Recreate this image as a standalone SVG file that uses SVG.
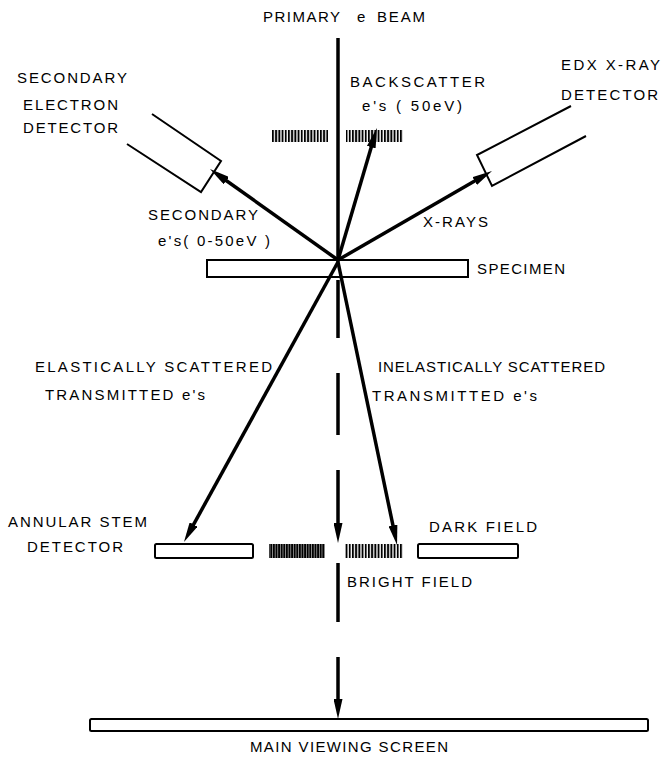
<svg xmlns="http://www.w3.org/2000/svg" width="662" height="760" viewBox="0 0 662 760">
  <style>
    text { font-family: "Liberation Sans", Arial, sans-serif; font-size: 15px; fill: #000; }
    .box { fill: #fff; stroke: #000; stroke-width: 2; }
    .det { fill: none; stroke: #000; stroke-width: 2; stroke-linejoin: miter; }
    .ray { fill: none; stroke: #000; stroke-width: 3.5; marker-end: url(#head); }
    .beam { fill: none; stroke: #000; stroke-width: 3.5; }
  </style>
  <defs>
    <marker id="head" markerUnits="userSpaceOnUse" markerWidth="20" markerHeight="9" refX="11" refY="4.5" orient="auto" viewBox="0 0 20 9">
      <path d="M0,0 L20,4.5 L0,9 z" fill="#000"/>
    </marker>
    <pattern id="hatch" width="3.2" height="14" patternUnits="userSpaceOnUse">
      <rect x="0" y="0" width="1.9" height="14" fill="#000"/>
    </pattern>
    <pattern id="hatchDense" width="2.6" height="14" patternUnits="userSpaceOnUse">
      <rect x="0" y="0" width="2.1" height="14" fill="#000"/>
    </pattern>
  </defs>

  <rect width="662" height="760" fill="#fff"/>

  <!-- primary beam label -->
  <g id="primary-beam-label">
    <text y="22"><tspan x="263" textLength="77">PRIMARY</tspan><tspan x="357">e</tspan><tspan x="377" textLength="48">BEAM</tspan></text>
  </g>

  <!-- secondary electron detector -->
  <g id="se-detector">
    <polyline class="det" points="152,114 221,161 201,192 127,144"/>
    <text x="17" y="83" textLength="110">SECONDARY</text>
    <text x="23" y="110" textLength="95">ELECTRON</text>
    <text x="23" y="133" textLength="95">DETECTOR</text>
  </g>

  <!-- EDX detector -->
  <g id="edx-detector">
    <polyline class="det" points="571,106 477,155 492,186 586,136"/>
    <text x="561" y="70" textLength="99">EDX X-RAY</text>
    <text x="561" y="100" textLength="97">DETECTOR</text>
  </g>

  <!-- backscatter aperture -->
  <g id="backscatter">
    <rect x="272" y="130" width="56" height="12" fill="url(#hatch)"/>
    <rect x="346" y="130" width="57" height="12" fill="url(#hatch)"/>
    <text x="350" y="87" textLength="135">BACKSCATTER</text>
    <text x="362" y="111" textLength="100">e's ( 50eV)</text>
  </g>

  <!-- specimen -->
  <g id="specimen">
    <rect class="box" x="207" y="260" width="261" height="17"/>
    <text x="477" y="274" textLength="88">SPECIMEN</text>
  </g>

  <!-- signal labels -->
  <g id="secondary-label">
    <text x="148" y="220" textLength="110">SECONDARY</text>
    <text x="158" y="246" textLength="112">e's( 0-50eV )</text>
  </g>
  <g id="xray-label">
    <text x="423" y="227" textLength="65">X-RAYS</text>
  </g>
  <g id="elastic-label">
    <text x="35" y="372" textLength="237">ELASTICALLY SCATTERED</text>
    <text x="45" y="400" textLength="160">TRANSMITTED e's</text>
  </g>
  <g id="inelastic-label">
    <text x="378" y="372" textLength="227">INELASTICALLY SCATTERED</text>
    <text x="372" y="401" textLength="165">TRANSMITTED e's</text>
  </g>

  <!-- annular STEM detector -->
  <g id="annular-stem">
    <rect class="box" x="155" y="544" width="98" height="14" rx="1.5"/>
    <text x="8" y="527" textLength="139">ANNULAR STEM</text>
    <text x="27" y="552" textLength="96">DETECTOR</text>
  </g>

  <!-- bright field detector -->
  <g id="bright-field">
    <rect x="269" y="544" width="56" height="14" fill="url(#hatchDense)"/>
    <rect x="345" y="544" width="58" height="14" fill="url(#hatch)"/>
    <text x="347" y="587" textLength="125">BRIGHT FIELD</text>
  </g>

  <!-- dark field detector -->
  <g id="dark-field">
    <rect class="box" x="418" y="544" width="100" height="14" rx="1.5"/>
    <text x="429" y="532" textLength="108">DARK FIELD</text>
  </g>

  <!-- main viewing screen -->
  <g id="viewing-screen">
    <rect class="box" x="90" y="719" width="558" height="12" rx="1.5"/>
    <text x="250" y="752" textLength="198">MAIN VIEWING SCREEN</text>
  </g>

  <!-- beam and signal paths -->
  <g id="connectors">
    <line class="beam" x1="338" y1="38" x2="338" y2="262"/>
    <path class="beam" d="M338,280 V338 M338,373 V435 M338,563 V622"/>
    <line class="ray" x1="338" y1="470" x2="338" y2="534"/>
    <line class="ray" x1="338" y1="657" x2="338" y2="710"/>
    <line class="ray" x1="338" y1="260" x2="217.3" y2="174.2"/>
    <line class="ray" x1="338" y1="260" x2="374.4" y2="136.6"/>
    <line class="ray" x1="338" y1="260" x2="484.2" y2="175.5"/>
    <line class="ray" x1="338" y1="262" x2="188.3" y2="534.1"/>
    <line class="ray" x1="338" y1="262" x2="395.2" y2="536.2"/>
  </g>
</svg>
